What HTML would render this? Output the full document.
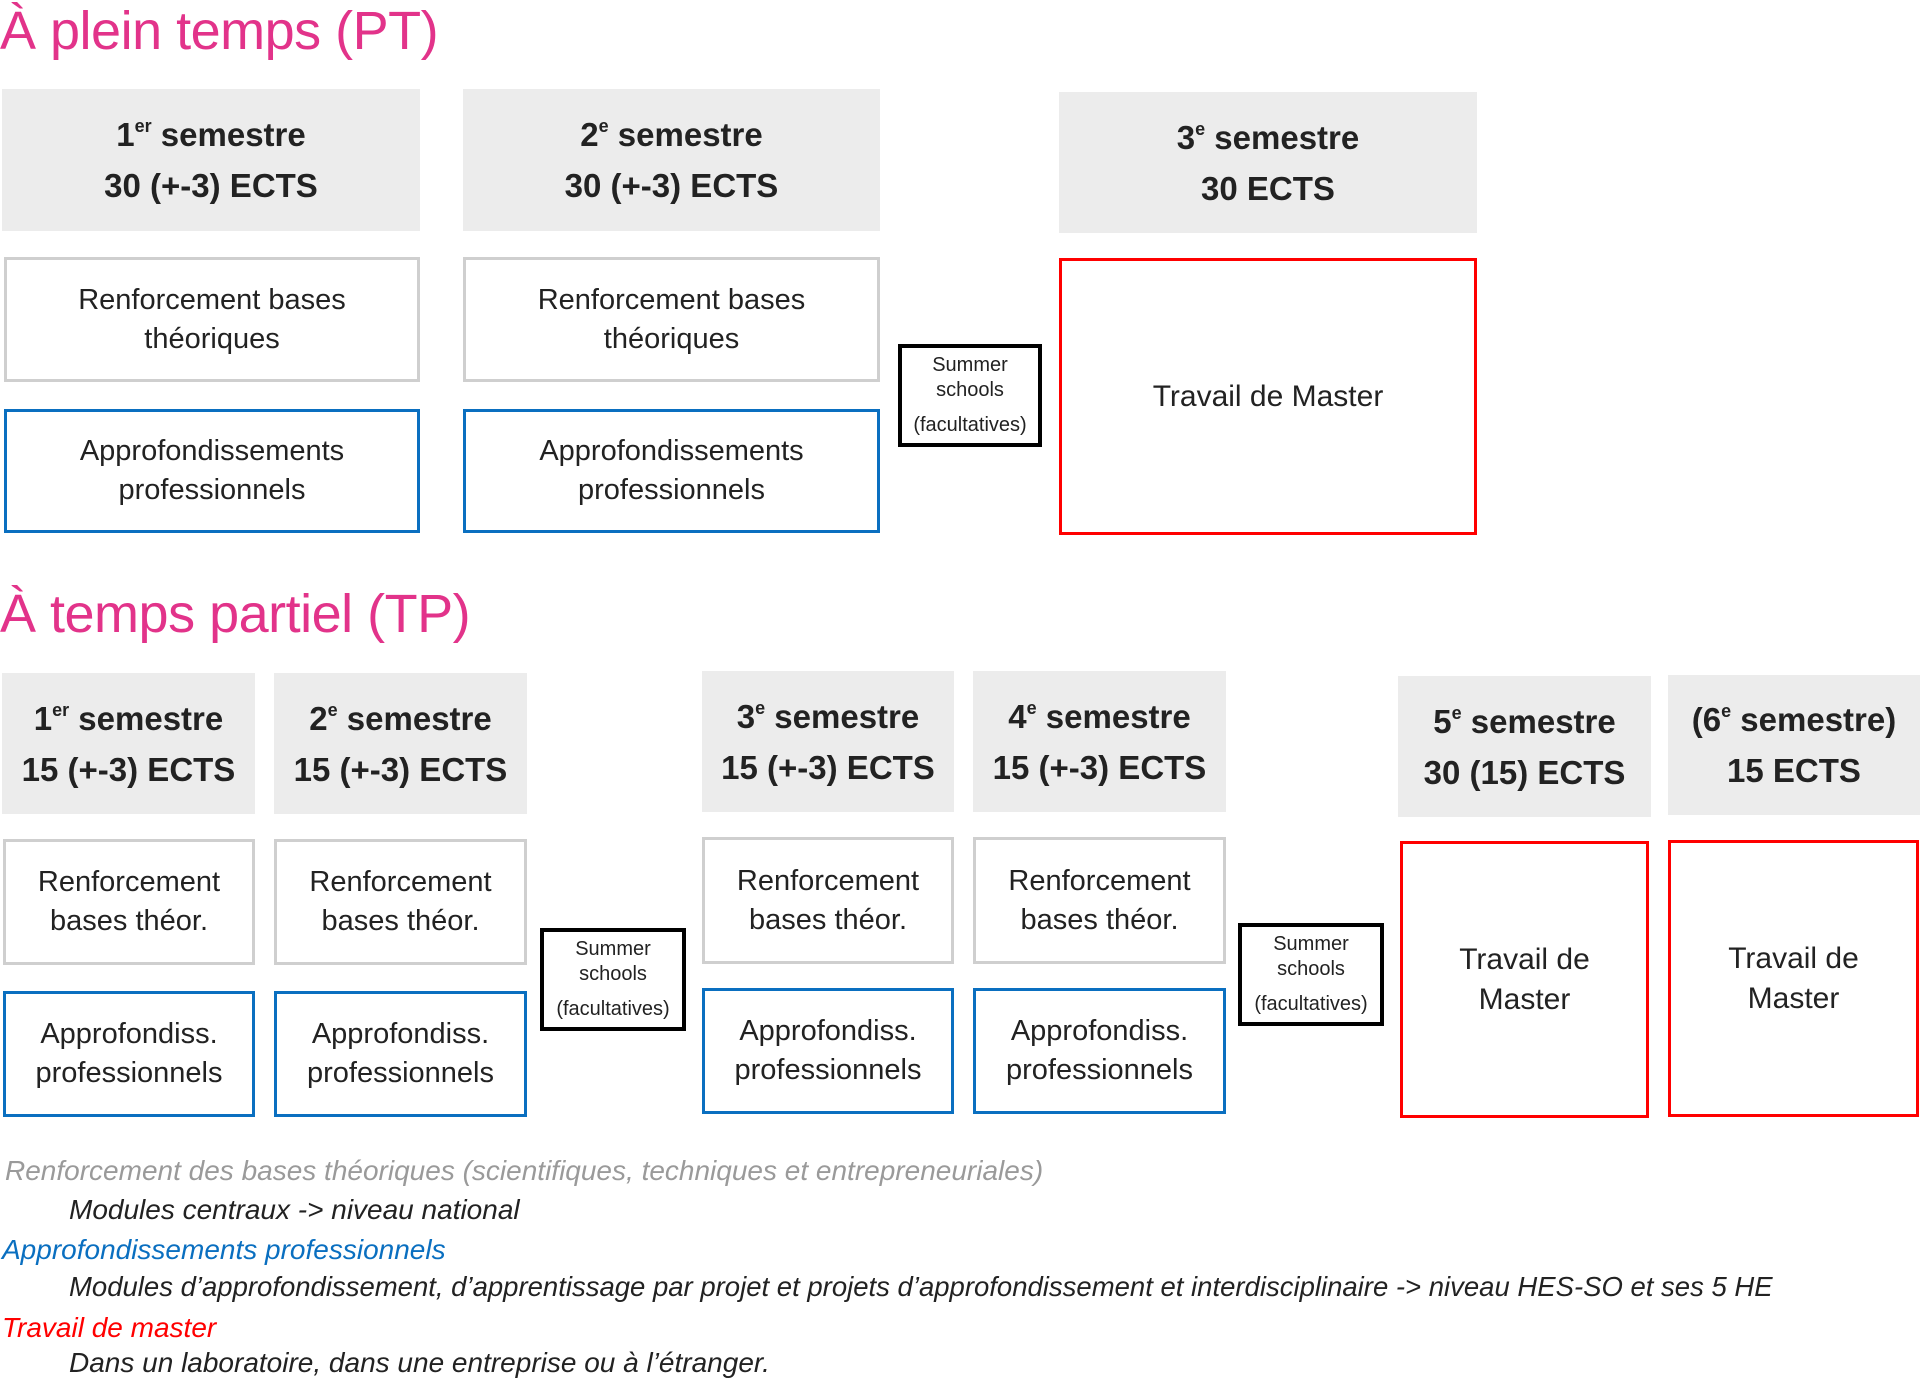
<!DOCTYPE html>
<html><head><meta charset="utf-8"><style>
body{margin:0;width:1920px;height:1384px;background:#fff;position:relative;overflow:hidden;font-family:"Liberation Sans",Arial,sans-serif;color:#222}
.a{position:absolute;box-sizing:border-box;display:flex;align-items:center;justify-content:center;text-align:center}
.t{position:absolute;left:0;color:#e2338a;font-size:54px;white-space:nowrap;letter-spacing:-0.5px}
.h{background:#ececec;font-weight:bold;font-size:33px;line-height:51px}
.h sup{font-size:18px;vertical-align:14px;line-height:0}
.r{border:3px solid #cfcfcf;font-size:29px;line-height:39px}
.b{border:3px solid #0a6fc0;font-size:29px;line-height:39px}
.m{border:3px solid #ff0000;font-size:30px;line-height:40px}
.s{border:4px solid #000;font-size:20px;line-height:25px;flex-direction:column}
.l{position:absolute;font-style:italic;font-size:28px;white-space:nowrap}
</style></head><body>
<div class="t" style="top:0px">À plein temps (PT)</div>
<div class="a h" style="left:2px;top:89px;width:418px;height:142px"><span>1<sup>er</sup> semestre<br>30 (+-3) ECTS</span></div>
<div class="a h" style="left:463px;top:89px;width:417px;height:142px"><span>2<sup>e</sup> semestre<br>30 (+-3) ECTS</span></div>
<div class="a h" style="left:1059px;top:92px;width:418px;height:141px"><span>3<sup>e</sup> semestre<br>30 ECTS</span></div>
<div class="a r" style="left:4px;top:257px;width:416px;height:125px">Renforcement bases<br>théoriques</div>
<div class="a r" style="left:463px;top:257px;width:417px;height:125px">Renforcement bases<br>théoriques</div>
<div class="a b" style="left:4px;top:409px;width:416px;height:124px">Approfondissements<br>professionnels</div>
<div class="a b" style="left:463px;top:409px;width:417px;height:124px">Approfondissements<br>professionnels</div>
<div class="a s" style="left:898px;top:344px;width:144px;height:103px"><div>Summer<br>schools</div><div style="margin-top:10px">(facultatives)</div></div>
<div class="a m" style="left:1059px;top:258px;width:418px;height:277px">Travail de Master</div>

<div class="t" style="top:583px">À temps partiel (TP)</div>
<div class="a h" style="left:2px;top:673px;width:253px;height:141px"><span>1<sup>er</sup> semestre<br>15 (+-3) ECTS</span></div>
<div class="a h" style="left:274px;top:673px;width:253px;height:141px"><span>2<sup>e</sup> semestre<br>15 (+-3) ECTS</span></div>
<div class="a h" style="left:702px;top:671px;width:252px;height:141px"><span>3<sup>e</sup> semestre<br>15 (+-3) ECTS</span></div>
<div class="a h" style="left:973px;top:671px;width:253px;height:141px"><span>4<sup>e</sup> semestre<br>15 (+-3) ECTS</span></div>
<div class="a h" style="left:1398px;top:676px;width:253px;height:141px"><span>5<sup>e</sup> semestre<br>30 (15) ECTS</span></div>
<div class="a h" style="left:1668px;top:675px;width:252px;height:140px"><span>(6<sup>e</sup> semestre)<br>15 ECTS</span></div>
<div class="a r" style="left:3px;top:839px;width:252px;height:126px">Renforcement<br>bases théor.</div>
<div class="a r" style="left:274px;top:839px;width:253px;height:126px">Renforcement<br>bases théor.</div>
<div class="a r" style="left:702px;top:837px;width:252px;height:127px">Renforcement<br>bases théor.</div>
<div class="a r" style="left:973px;top:837px;width:253px;height:127px">Renforcement<br>bases théor.</div>
<div class="a b" style="left:3px;top:991px;width:252px;height:126px">Approfondiss.<br>professionnels</div>
<div class="a b" style="left:274px;top:991px;width:253px;height:126px">Approfondiss.<br>professionnels</div>
<div class="a b" style="left:702px;top:988px;width:252px;height:126px">Approfondiss.<br>professionnels</div>
<div class="a b" style="left:973px;top:988px;width:253px;height:126px">Approfondiss.<br>professionnels</div>
<div class="a s" style="left:540px;top:928px;width:146px;height:103px"><div>Summer<br>schools</div><div style="margin-top:10px">(facultatives)</div></div>
<div class="a s" style="left:1238px;top:923px;width:146px;height:103px"><div>Summer<br>schools</div><div style="margin-top:10px">(facultatives)</div></div>
<div class="a m" style="left:1400px;top:841px;width:249px;height:277px">Travail de<br>Master</div>
<div class="a m" style="left:1668px;top:840px;width:251px;height:277px">Travail de<br>Master</div>

<div class="l" style="left:5px;top:1155px;color:#9a9a9a">Renforcement des bases théoriques (scientifiques, techniques et entrepreneuriales)</div>
<div class="l" style="left:69px;top:1194px">Modules centraux -&gt; niveau national</div>
<div class="l" style="left:2px;top:1234px;color:#0a6fc0">Approfondissements professionnels</div>
<div class="l" style="left:69px;top:1271px;font-size:27.5px">Modules d’approfondissement, d’apprentissage par projet et projets d’approfondissement et interdisciplinaire -&gt; niveau HES-SO et ses 5 HE</div>
<div class="l" style="left:2px;top:1312px;color:#ff0000">Travail de master</div>
<div class="l" style="left:69px;top:1347px">Dans un laboratoire, dans une entreprise ou à l’étranger.</div>
</body></html>
